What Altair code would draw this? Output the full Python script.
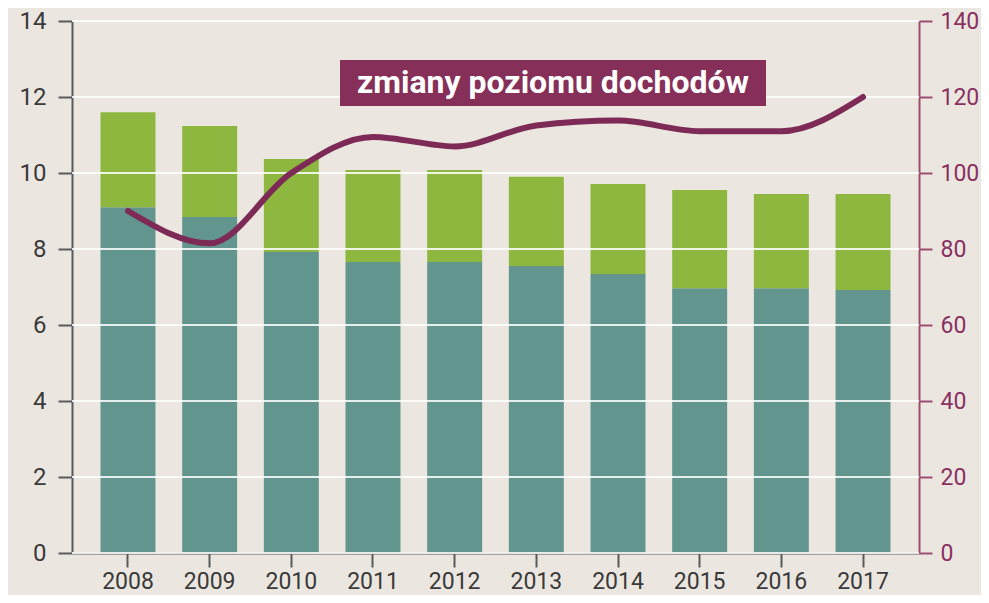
import altair as alt
import pandas as pd

years = ["2008", "2009", "2010", "2011", "2012", "2013", "2014", "2015", "2016", "2017"]
teal_values = [9.1, 8.84, 7.92, 7.66, 7.66, 7.55, 7.34, 6.97, 6.97, 6.92]
green_values = [2.5, 2.4, 2.45, 2.42, 2.42, 2.35, 2.37, 2.58, 2.48, 2.53]
income_index = [90, 81.5, 100, 109.5, 107, 112.5, 113.8, 111, 111, 120]
left_ticks = [0, 2, 4, 6, 8, 10, 12, 14]
right_ticks = [0, 20, 40, 60, 80, 100, 120, 140]
label_text = "zmiany poziomu dochodów"

BG = "#ebe7e0"
TEAL = "#62958e"
GREEN = "#8db73f"
MAROON = "#7d2b56"
BOX = "#852f59"
RIGHT_AXIS = "#9c4d72"
RIGHT_LABEL = "#8a3060"
GRAY = "#5a5a5a"
TEXT = "#3a3a3a"

rows = []
for y, t, g in zip(years, teal_values, green_values):
    rows.append({"year": y, "part": "teal", "value": t, "order": 0})
    rows.append({"year": y, "part": "green", "value": g, "order": 1})
bars_df = pd.DataFrame(rows)
line_df = pd.DataFrame({"year": years, "index": income_index})
grid_df = pd.DataFrame({"v": left_ticks})

x_enc = alt.X(
    "year:O",
    sort=years,
    scale=alt.Scale(paddingInner=0.327, paddingOuter=0.349),
    axis=alt.Axis(
        title=None, labelAngle=0, labelFont="Roboto", labelFontSize=23,
        labelColor=TEXT, labelPadding=3, tickSize=14, tickWidth=2,
        tickColor=GRAY, domainColor=GRAY, domainWidth=2, grid=False,
    ),
)

bars = alt.Chart(bars_df).mark_bar().encode(
    x=x_enc,
    y=alt.Y(
        "sum(value):Q",
        stack="zero",
        scale=alt.Scale(domain=[0, 14], nice=False),
        axis=alt.Axis(
            title=None, orient="left", values=left_ticks, grid=False,
            labelFont="Roboto", labelFontSize=24, labelColor=TEXT,
            labelPadding=12, tickSize=14, tickWidth=2, tickColor=GRAY,
            domainColor=GRAY, domainWidth=2,
        ),
    ),
    color=alt.Color(
        "part:N",
        scale=alt.Scale(domain=["teal", "green"], range=[TEAL, GREEN]),
        legend=None,
    ),
    order=alt.Order("order:Q"),
)

grid = alt.Chart(grid_df).mark_rule(color="#ffffff", strokeWidth=2, opacity=0.85).encode(
    y=alt.Y("v:Q", scale=alt.Scale(domain=[0, 14], nice=False), axis=None)
)

line = alt.Chart(line_df).mark_line(
    interpolate="monotone", strokeWidth=6, color=MAROON, strokeCap="round"
).encode(
    x=alt.X("year:O", sort=years),
    y=alt.Y(
        "index:Q",
        scale=alt.Scale(domain=[0, 140], nice=False),
        axis=alt.Axis(
            title=None, orient="right", values=right_ticks, grid=False,
            labelFont="Roboto", labelFontSize=23, labelColor=RIGHT_LABEL,
            labelPadding=8, tickSize=13, tickWidth=2, tickColor=RIGHT_AXIS,
            domainColor=RIGHT_AXIS, domainWidth=2,
        ),
    ),
)

box = alt.Chart(alt.Data(values=[{}])).mark_rect(color=BOX).encode(
    x=alt.value(268), x2=alt.value(694), y=alt.value(39), y2=alt.value(85)
)
label = alt.Chart(alt.Data(values=[{"t": label_text}])).mark_text(
    font="Roboto", fontWeight="bold", fontSize=32, color="#ffffff",
    align="center", baseline="middle",
).encode(x=alt.value(481), y=alt.value(62), text="t:N")

chart = (
    alt.layer(bars, grid, line, box, label)
    .resolve_scale(y="independent")
    .properties(
        width=847, height=532, background=BG,
        autosize=alt.AutoSizeParams(type="none"),
        padding={"left": 64, "top": 13, "right": 62, "bottom": 42},
    )
    .configure_view(stroke=None)
)

chart.save("out.html", embed_options={"renderer": "svg", "actions": False})
